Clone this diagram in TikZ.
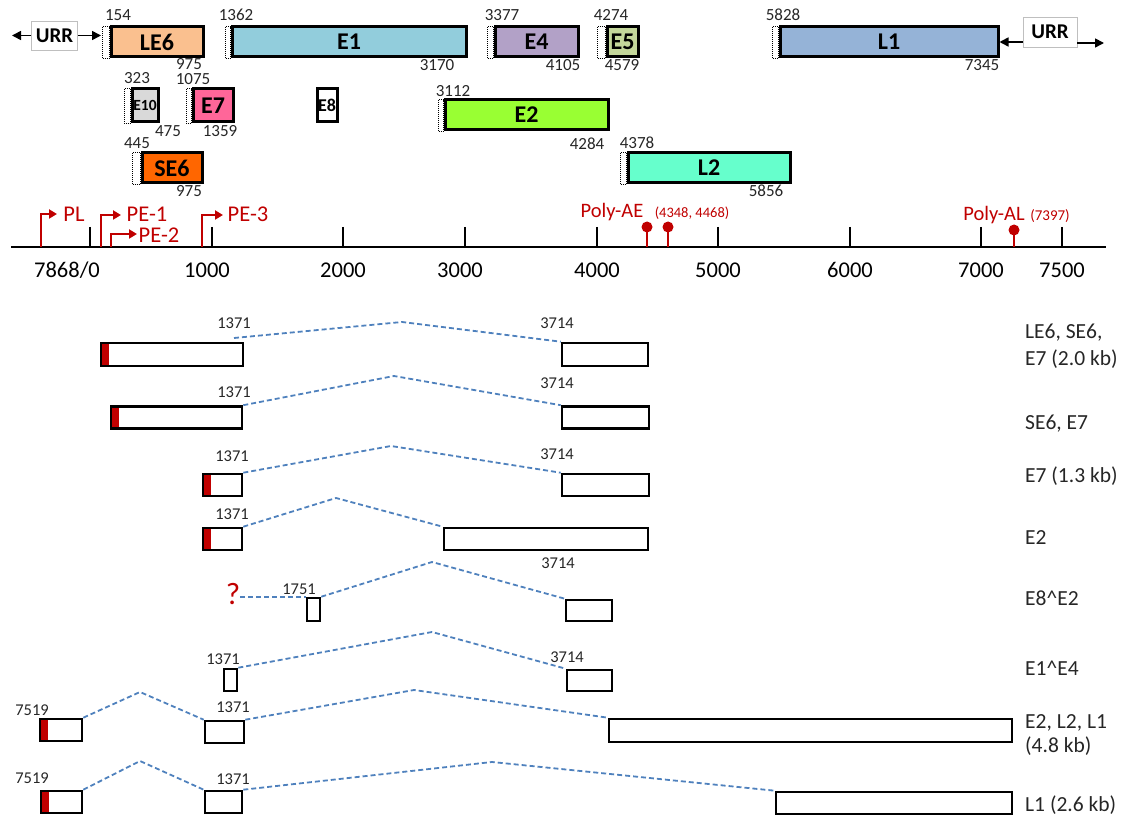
\documentclass[tikz,border=0pt]{standalone}
\usepackage{fontspec}
\setmainfont{Carlito}
\usetikzlibrary{arrows.meta}
\definecolor{cle6}{RGB}{250,192,143}
\definecolor{ce1}{RGB}{146,205,220}
\definecolor{ce4}{RGB}{178,161,199}
\definecolor{ce5}{RGB}{196,215,155}
\definecolor{cl1}{RGB}{149,179,215}
\definecolor{ce10}{RGB}{217,217,217}
\definecolor{ce7}{RGB}{255,102,153}
\definecolor{ce2}{RGB}{153,255,51}
\definecolor{cse6}{RGB}{255,102,0}
\definecolor{cl2}{RGB}{102,255,204}
\definecolor{pvred}{RGB}{192,0,0}
\definecolor{intronblue}{RGB}{79,129,189}
\newcommand{\fsz}[1]{\fontsize{#1}{#1}\selectfont}
\tikzset{
  gene/.style={draw, line width=3pt, inner sep=0pt, minimum height=30, font=\bfseries\fsz{24}},
  lead/.style={densely dotted, line width=1pt},
  urr/.style={draw=black!25, line width=0.8pt, inner sep=0pt, minimum width=46, minimum height=29, font=\bfseries\fsz{21}},
  num/.style={inner sep=0pt, text=black!85, font=\fsz{17}},
  exon/.style={draw, line width=2.6pt, inner sep=0pt, fill=white, minimum height=22},
  capped/.style={path picture={\fill[pvred] (path picture bounding box.north west) rectangle ([xshift=8pt]path picture bounding box.south west);}},
  intron/.style={line width=1.8pt, draw=intronblue, dash pattern=on 5pt off 3pt},
  prom/.style={line width=2pt, draw=pvred, -{Triangle[length=8pt,width=9pt]}},
  lab/.style={inner sep=0pt, anchor=west, align=left, text=black!85, font=\fsz{21.5}},
}
\begin{document}
\begin{tikzpicture}[x=1pt, y=-1pt, >={Triangle[length=9pt,width=9pt]}]
    \useasboundingbox (0,0) rectangle (1122,818);

    % Gene boxes (first row)
    \node[gene, fill=cle6, minimum width=92] (LE6) at (157,42) {LE6};
    \node[gene, fill=ce1, minimum width=234] (E1) at (349,42) {E1};
    \node[gene, fill=ce4, minimum width=83] (E4) at (536.5,42) {E4};
    \node[gene, fill=ce5, minimum width=31] (E5) at (622.5,42) {E5};
    \node[gene, fill=cl1, minimum width=218] (L1) at (889,42) {L1};
    % second and third row
    \node[gene, fill=ce10, minimum width=26, minimum height=33, font=\bfseries\fsz{15.5}] (E10) at (145,105.5) {E10};
    \node[gene, fill=ce7, minimum width=40, minimum height=33] (E7) at (213,105.5) {E7};
    \node[gene, fill=white, minimum width=20, minimum height=33, font=\bfseries\fsz{18}] (E8) at (327,105.5) {E8};
    \node[gene, fill=ce2, minimum width=163] (E2) at (526.5,115) {E2};
    \node[gene, fill=cse6, minimum width=60] (SE6) at (172,168) {SE6};
    \node[gene, fill=cl2, minimum width=162] (L2) at (709,168) {L2};

    % Dotted leader parts
    \draw[lead] (102,27) rectangle (LE6.south west);
    \draw[lead] (225,27) rectangle (E1.south west);
    \draw[lead] (487,27) rectangle (E4.south west);
    \draw[lead] (597,27) rectangle (E5.south west);
    \draw[lead] (772,27) rectangle (L1.south west);
    \draw[lead] (124,89) rectangle (E10.south west);
    \draw[lead] (186,89) rectangle (E7.south west);
    \draw[lead] (438,100) rectangle (E2.south west);
    \draw[lead] (132,153) rectangle (SE6.south west);
    \draw[lead] (620,153) rectangle (L2.south west);

    % URR
    \node[urr] (URRa) at (54.5,35.5) {URR};
    \node[urr, minimum width=54, minimum height=30] (URRb) at (1050,32) {URR};
    \coordinate (urrL) at (12,35.5);
    \coordinate (urrM) at (101,35.5);
    \coordinate (urrR) at (1104,43);
    \draw[->, line width=1.6pt] (URRa.west) -- (urrL);
    \draw[->, line width=1.6pt] (URRa.east) -- (urrM);
    \draw[->, line width=1.6pt] (URRb.west |- L1.east) -- (L1.east);
    \draw[->, line width=1.6pt] (URRb.east |- urrR) -- (urrR);

    % Positions of the genes
    \foreach \x/\y/\t [count=\i] in {118/15/154, 236/15/1362, 502/15/3377, 611/15/4274, 783/15/5828,
        189/64/975, 437/65/3170, 563/65/4105, 622/65/4579, 982/65/7345,
        137/78/323, 193/79/1075, 168/131/475, 220/131/1359, 453/91/3112, 587/144/4284,
        137/143/445, 189/191/975, 637/143/4378, 766/191/5856}
    \node[num] (top\i) at (\x,\y) {\t};

    % Genome axis
    \draw[line width=2.4pt] (11,247) -- (1106,247);
    \foreach \x in {90,212,343,465,597,718,850,981,1062}
    \draw[line width=2.4pt] (\x,227) -- (\x,247);
    \node[inner sep=0pt, font=\fsz{22.5}] (ax0) at (67,270) {7868/0};
    \foreach \x/\t [count=\i] in {207/1000, 343/2000, 460/3000, 597/4000, 718/5000, 850/6000, 981/7000, 1062/7500}
    \node[inner sep=0pt, font=\fsz{22.5}] (ax\i) at (\x,270) {\t};

    % Promoters
    \draw[prom] (41,247) -- (41,214) -- (57,214);
    \draw[prom] (101,247) -- (101,215) -- (121,215);
    \draw[prom] (111,247) -- (111,234) -- (137,234);
    \draw[prom] (202,247) -- (202,215) -- (223,215);
    \node[inner sep=0pt, text=pvred, font=\fsz{22.5}] (pPL) at (74,214) {PL};
    \node[inner sep=0pt, text=pvred, font=\fsz{22.5}] (pPE1) at (147,214) {PE-1};
    \node[inner sep=0pt, text=pvred, font=\fsz{22.5}] (pPE2) at (159,235) {PE-2};
    \node[inner sep=0pt, text=pvred, font=\fsz{22.5}] (pPE3) at (248,214) {PE-3};

    % Poly-A sites
    \foreach \x/\y in {647/227, 668/227, 1014/230} {
    \draw[pvred, line width=2pt] (\x,247) -- (\x,\y);
    \fill[pvred] (\x,\y) circle (5.5);
    }
    \node[inner sep=0pt, text=pvred, font=\fsz{20.5}] (pAE) at (612,212) {Poly-AE};
    \node[inner sep=0pt, text=pvred, font=\fsz{14.5}] (pAEn) at (692,213) {(4348, 4468)};
    \node[inner sep=0pt, text=pvred, font=\fsz{20.5}] (pAL) at (994,215) {Poly-AL};
    \node[inner sep=0pt, text=pvred, font=\fsz{15}] (pALn) at (1050,216) {(7397)};

    % Transcripts: exons
    \node[exon, capped, minimum width=142, minimum height=23] (a1) at (172,354.5) {};
    \node[exon, minimum width=86, minimum height=23] (a2) at (605,354.5) {};
    \node[exon, capped, minimum width=131] (b1) at (176.5,417.5) {};
    \node[exon, minimum width=87] (b2) at (605.5,417.5) {};
    \node[exon, capped, minimum width=39] (c1) at (222.5,485) {};
    \node[exon, minimum width=87] (c2) at (605.5,485) {};
    \node[exon, capped, minimum width=39] (d1) at (222.5,539) {};
    \node[exon, minimum width=204] (d2) at (546,539) {};
    \node[exon, minimum width=13, minimum height=23] (e1) at (313.5,609.5) {};
    \node[exon, minimum width=46, minimum height=21] (e2) at (589,610.5) {};
    \node[exon, minimum width=13] (f1) at (230.5,680) {};
    \node[exon, minimum width=45, minimum height=21] (f2) at (589.5,680.5) {};
    \node[exon, capped, minimum width=42] (g1) at (61,730) {};
    \node[exon, minimum width=39] (g2) at (224.5,732) {};
    \node[exon, minimum width=403, minimum height=23] (g3) at (810.5,730.5) {};
    \node[exon, capped, minimum width=41] (h1) at (61.5,802) {};
    \node[exon, minimum width=37] (h2) at (223.5,802) {};
    \node[exon, minimum width=236] (h3) at (894,803) {};
    \node[inner sep=0pt, text=pvred, font=\fsz{31}] (q) at (233,594) {?};

    % Transcripts: introns
    \coordinate (s1) at (234,338);
    \draw[intron] (s1) -- (402,322) -- (a2.north west);
    \draw[intron] (b1.north east) -- (394,376) -- (b2.north west);
    \draw[intron] (c1.north east) -- (391,446) -- (c2.north west);
    \draw[intron] (d1.north east) -- (336,498) -- (d2.north west);
    \draw[intron] (q.east |- e1.north west) -- (e1.north west);
    \draw[intron] (e1.north east) -- (432,562) -- (e2.north west);
    \draw[intron] (f1.north east) -- (432,632) -- (f2.north west);
    \draw[intron] (g1.north east) -- (140,692) -- (g2.north west);
    \draw[intron] (g2.north east) -- (414,690) -- (g3.north west);
    \draw[intron] (h1.north east) -- (140,761) -- (h2.north west);
    \draw[intron] (h2.north east) -- (492,762) -- (h3.north west);

    % Splice positions
    \foreach \x/\y/\t [count=\i] in {234/323/1371, 557/323/3714, 234/392/1371, 557/383/3714,
        232/456/1371, 557/454/3714, 232/514/1371, 558/563/3714, 299/589/1751,
        223/659/1371, 567/657/3714, 32/710/7519, 233/707/1371, 32/778/7519, 233/779/1371}
    \node[num, font=\fsz{16.5}] (sp\i) at (\x,\y) {\t};

    % Transcript names
    \node[lab, font=\fontsize{21.5}{27}\selectfont] (r1) at (1025,346.5) {LE6, SE6,\\E7 (2.0 kb)};
    \node[lab] (r2) at (1025,424) {SE6, E7};
    \node[lab] (r3) at (1025,476) {E7 (1.3 kb)};
    \node[lab] (r4) at (1025,538) {E2};
    \node[lab] (r5) at (1025,598) {E8\textasciicircum E2};
    \node[lab] (r6) at (1025,668) {E1\textasciicircum E4};
    \node[lab, font=\fontsize{21.5}{24}\selectfont] (r7) at (1025,735) {E2, L2, L1\\(4.8 kb)};
    \node[lab] (r8) at (1025,805) {L1 (2.6 kb)};
\end{tikzpicture}
\end{document}
